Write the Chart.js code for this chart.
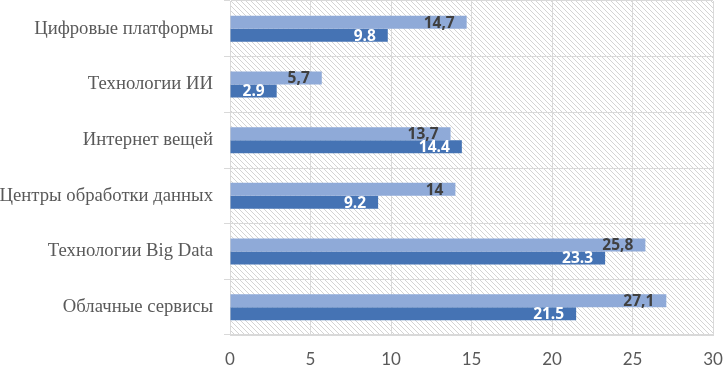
<!DOCTYPE html>
<html>
<head>
<meta charset="utf-8">
<script src="https://cdn.jsdelivr.net/npm/chart.js@4/dist/chart.umd.min.js"></script>
<style>
html,body{margin:0;padding:0;background:#fff;}
#wrap{width:724px;height:366px;position:relative;}
</style>
</head>
<body>
<div id="wrap"><canvas id="c" width="724" height="366"></canvas></div>
<script>
const categories = ["Цифровые платформы","Технологии ИИ","Интернет вещей","Центры обработки данных","Технологии Big Data","Облачные сервисы"];
const lightValues = [14.7, 5.7, 13.7, 14, 25.8, 27.1];
const darkValues = [9.8, 2.9, 14.4, 9.2, 23.3, 21.5];
const lightLabels = ["14,7","5,7","13,7","14","25,8","27,1"];
const darkLabels = ["9.8","2.9","14.4","9.2","23.3","21.5"];
const xTicks = [0,5,10,15,20,25,30];

function makeHatch(){
  const p = document.createElement('canvas');
  p.width = 5; p.height = 5;
  const g = p.getContext('2d');
  g.strokeStyle = '#d4d4d4';
  g.lineWidth = 1;
  g.beginPath();
  g.moveTo(-1,-1); g.lineTo(6,6);
  g.moveTo(-1,4); g.lineTo(1,6);
  g.moveTo(4,-1); g.lineTo(6,1);
  g.stroke();
  return p;
}

const hatchPlugin = {
  id:'hatch',
  beforeDraw(chart){
    const {ctx, chartArea:a} = chart;
    ctx.save();
    ctx.fillStyle = ctx.createPattern(makeHatch(),'repeat');
    ctx.fillRect(a.left,a.top,a.right-a.left,a.bottom-a.top);
    ctx.restore();
  }
};

const labelPlugin = {
  id:'labels',
  afterDatasetsDraw(chart){
    const ctx = chart.ctx;
    ctx.save();
    ctx.font = 'bold 15.5px "Open Sans"';
    ctx.textAlign = 'right';
    ctx.textBaseline = 'middle';
    chart.data.datasets.forEach((ds,di)=>{
      const meta = chart.getDatasetMeta(di);
      meta.data.forEach((el,i)=>{
        ctx.fillStyle = ds.labelColor;
        ctx.fillText(ds.labels[i], el.x - 12, el.y + 1);
      });
    });
    ctx.restore();
  }
};

function noPad(s){ s.paddingLeft = 0; s.paddingRight = 0; s.paddingTop = 0; s.paddingBottom = 0; }

new Chart(document.getElementById('c'),{
  type:'bar',
  data:{
    labels:categories,
    datasets:[
      {data:lightValues, labels:lightLabels, labelColor:'#404040', backgroundColor:'#8faad8', categoryPercentage:0.466, barPercentage:1, borderWidth:0},
      {data:darkValues, labels:darkLabels, labelColor:'#ffffff', backgroundColor:'#4573b4', categoryPercentage:0.466, barPercentage:1, borderWidth:0}
    ]
  },
  options:{
    indexAxis:'y',
    responsive:false,
    animation:false,
    devicePixelRatio:1,
    layout:{padding:{top:1,right:11,left:0,bottom:0}},
    plugins:{legend:{display:false},tooltip:{enabled:false}},
    scales:{
      x:{
        min:0,max:30,
        afterBuildTicks(s){ s.ticks = xTicks.map(v=>({value:v})); },
        grid:{color:'#d9d9d9', lineWidth:1, drawTicks:false},
        border:{display:true,color:'#d9d9d9'},
        ticks:{font:{family:'Lato',size:17},color:'#595959',padding:14},
        afterFit(s){ s.height = 31; noPad(s); }
      },
      y:{
        grid:{color:'#d9d9d9', lineWidth:1, drawTicks:true, tickLength:6, offset:true},
        border:{display:true,color:'#d9d9d9'},
        ticks:{font:{family:'Liberation Serif',size:18.7},color:'#595959',padding:11},
        afterFit(s){ s.width = 230; noPad(s); }
      }
    }
  },
  plugins:[hatchPlugin,labelPlugin]
});
</script>
</body>
</html>
